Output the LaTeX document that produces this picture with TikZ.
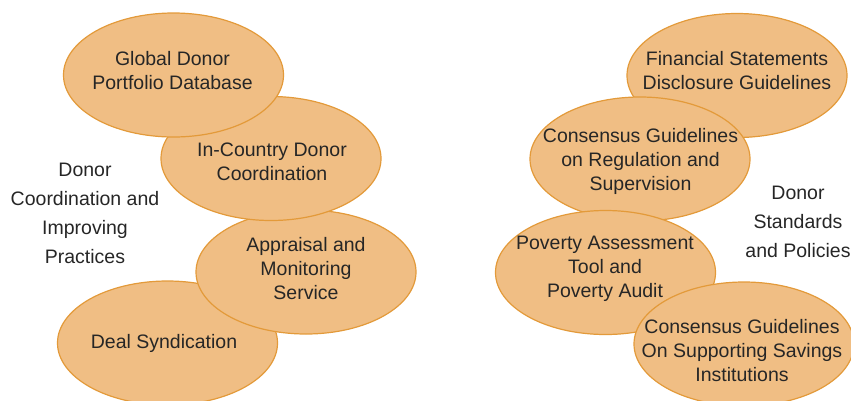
\documentclass[tikz,border=0pt]{standalone}
\usepackage{fontspec}
\setmainfont{Liberation Sans}
\usetikzlibrary{shapes.geometric}
\definecolor{blobfill}{HTML}{F0BE84}
\definecolor{blobline}{HTML}{E39A3A}
\definecolor{ink}{HTML}{262626}
\tikzset{
  blob/.style={ellipse, draw=blobline, fill=blobfill, line width=1.2pt,
    minimum width=220pt, minimum height=124pt, inner sep=0pt},
  blobtext/.style={text=ink, align=center, inner sep=0pt,
    font=\fontsize{19.5}{24}\selectfont},
  sidetext/.style={text=ink, align=center, inner sep=0pt,
    font=\fontsize{19.5}{29}\selectfont},
}
\begin{document}
\begin{tikzpicture}[x=1pt,y=-1pt]
\useasboundingbox (0,0) rectangle (851,400);

% left stack, drawn from the bottom up so each upper ellipse overlaps the next
\node[blob] (l4) at (167.5,343) {};
\node[blob] (l3) at (306,272) {};
\node[blob] (l2) at (271,158.5) {};
\node[blob] (l1) at (173.5,75) {};
\node[blobtext] (tl1) at (172.5,71) {Global Donor\\Portfolio Database};
\node[blobtext] (tl2) at (272,161.5) {In-Country Donor\\Coordination};
\node[blobtext] (tl3) at (306,269) {Appraisal and\\Monitoring\\Service};
\node[blobtext] (tl4) at (164,343) {Deal Syndication};

% right stack, drawn from the top down so each lower ellipse overlaps the one above
\node[blob] (r1) at (737,75.5) {};
\node[blob] (r2) at (640,159) {};
\node[blob] (r3) at (605.5,272.5) {};
\node[blob] (r4) at (744,344) {};
\node[blobtext] (tr1) at (737,70.5) {Financial Statements\\Disclosure Guidelines};
\node[blobtext] (tr2) at (640.5,161.5) {Consensus Guidelines\\on Regulation and\\Supervision};
\node[blobtext] (tr3) at (605,269) {Poverty Assessment\\Tool and\\Poverty Audit};
\node[blobtext] (tr4) at (742,351) {Consensus Guidelines\\On Supporting Savings\\Institutions};

% group captions
\node[sidetext] (capl) at (85,213.5) {Donor\\Coordination and\\Improving\\Practices};
\node[sidetext] (capr) at (798,221.5) {Donor\\Standards\\and Policies};
\end{tikzpicture}
\end{document}
